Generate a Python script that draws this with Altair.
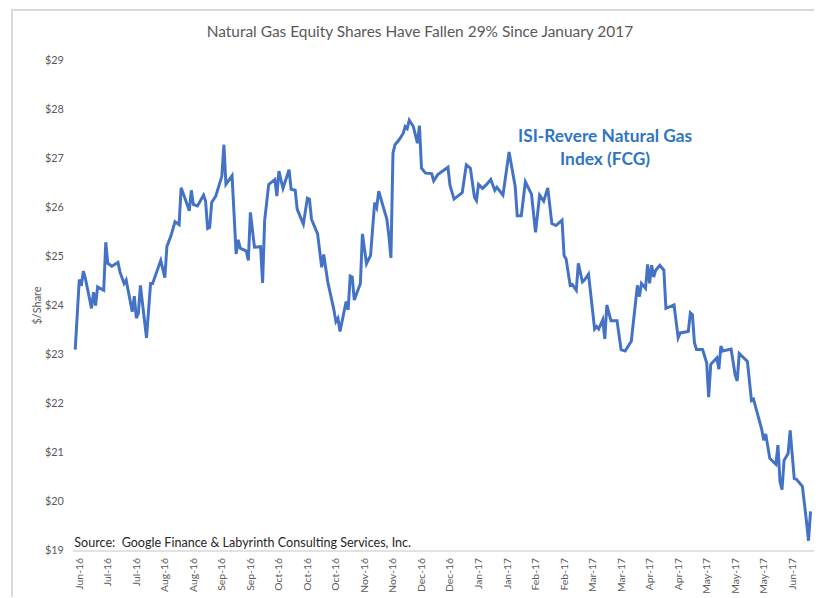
import altair as alt
import pandas as pd

# Days since 2016-06-27 and FCG closing price ($/share)
day_offsets = [-2, 0, 1, 2, 3, 6, 7, 8, 9, 12, 13, 14, 16, 19, 20, 22, 23, 26, 27, 28, 29, 30, 33, 35, 36,
               40, 42, 43, 45, 47, 49, 50, 52, 54, 55, 56, 58, 61, 62, 63, 64, 65, 67, 70, 71, 72, 75,
               77, 78, 79, 82, 83, 84, 86, 89, 90, 91, 93, 96, 97, 98, 100, 103, 104, 106, 107, 110,
               112, 113, 114, 117, 119, 120, 122, 125, 126, 127, 128, 131, 132, 133, 134, 135, 138,
               139, 141, 143, 145, 146, 147, 151, 152, 153, 154, 155, 157, 159, 160, 161, 162, 164,
               166, 167, 168, 170, 173, 174, 176, 181, 182, 184, 188, 190, 192, 194, 195, 196, 198,
               200, 202, 204, 205, 208, 211, 214, 215, 217, 219, 222, 224, 226, 228, 230, 232, 234,
               237, 238, 239, 241, 242, 244, 245, 247, 248, 250, 253, 254, 255, 257, 258, 259, 261,
               264, 266, 268, 271, 274, 275, 276, 278, 279, 280, 281, 282, 283, 285, 287, 288, 292,
               294, 295, 299, 300, 301, 302, 303, 306, 308, 309, 310, 313, 314, 315, 316, 320, 322,
               323, 324, 328, 330, 331, 335, 336, 337, 339, 342, 343, 344, 345, 346, 348, 349, 351,
               352, 355, 357, 358, 359]
prices = [23.10, 24.53, 24.40, 24.70, 24.55, 23.94, 24.27, 24.00, 24.38, 24.31, 25.29, 24.86, 24.80,
          24.88, 24.68, 24.45, 24.52, 23.87, 24.19, 23.74, 23.84, 24.41, 23.34, 24.45, 24.45,
          24.92, 24.57, 25.20, 25.42, 25.71, 25.65, 26.40, 26.17, 25.93, 26.35, 26.06, 26.03, 26.25,
          26.13, 25.57, 25.59, 26.10, 26.23, 26.64, 27.28, 26.47, 26.65,
          25.05, 25.34, 25.17, 25.11, 24.92, 25.90, 25.19, 25.20, 24.46, 25.73, 26.47, 26.57, 26.23,
          26.74, 26.39, 26.77, 26.37, 26.35, 25.96, 25.66,
          26.19, 26.17, 25.76, 25.46, 24.78, 25.04, 24.48, 23.91, 23.67, 23.74, 23.47, 24.08, 23.91,
          24.60, 24.58, 24.11, 24.45,
          25.46, 24.85, 25.02, 26.10, 26.00, 26.33, 25.76, 25.42, 24.97, 27.11, 27.28, 27.38, 27.51,
          27.65, 27.61, 27.78, 27.65,
          27.31, 27.67, 26.80, 26.70, 26.69, 26.54, 26.67, 26.82, 26.45, 26.17, 26.30, 26.87, 26.80,
          26.21, 26.14, 26.47, 26.39,
          26.47, 26.57, 26.35, 26.41, 26.25, 27.13, 26.43, 25.83, 25.83, 26.52, 26.27, 25.49, 26.25,
          26.13, 26.40, 25.67, 25.63,
          25.74, 25.02, 24.95, 24.41, 24.43, 24.31, 24.86, 24.48, 24.52, 24.64, 23.52, 23.57, 23.52,
          23.71, 23.32, 24.01, 23.69,
          23.69, 23.10, 23.07, 23.27, 24.41, 24.18, 24.45, 24.35, 24.84, 24.45, 24.82, 24.58, 24.72,
          24.82, 24.72, 23.94, 24.01,
          23.34, 23.44, 23.47, 23.85, 23.81, 23.24, 23.10, 23.10, 22.83, 22.13, 22.80, 22.93, 22.70,
          23.17, 23.07, 23.11, 22.58,
          22.46, 23.02, 22.86, 22.06, 22.09, 21.48, 21.25, 21.38, 20.88, 20.76, 21.15, 20.41, 20.24,
          20.84, 20.98, 21.45, 20.47,
          20.46, 20.31, 19.60, 19.20, 19.80]

tick_dates = ["2016-06-27", "2016-07-11", "2016-07-25", "2016-08-08", "2016-08-22", "2016-09-05",
              "2016-09-19", "2016-10-03", "2016-10-17", "2016-10-31", "2016-11-14", "2016-11-28",
              "2016-12-12", "2016-12-26", "2017-01-09", "2017-01-23", "2017-02-06", "2017-02-20",
              "2017-03-06", "2017-03-20", "2017-04-03", "2017-04-17", "2017-05-01", "2017-05-15",
              "2017-05-29", "2017-06-12"]
y_ticks = [19, 20, 21, 22, 23, 24, 25, 26, 27, 28, 29]

title_text = "Natural Gas Equity Shares Have Fallen 29% Since January 2017"
label_lines = ["ISI-Revere Natural Gas", "Index (FCG)"]
source_text = "Source:\u00a0\u00a0Google Finance & Labyrinth Consulting Services, Inc."

base = pd.Timestamp("2016-06-27")
df = pd.DataFrame({
    "date": [base + pd.Timedelta(days=d) for d in day_offsets],
    "price": prices,
})


def dt(ts):
    t = pd.Timestamp(ts)
    return alt.DateTime(year=t.year, month=t.month, date=t.day, hours=t.hour, minutes=t.minute)


x_domain = [dt("2016-06-23 14:24"), dt("2017-06-22 16:48")]
tick_values = [dt(t) for t in tick_dates]

FONT = "Lato"
GREY = "#595959"

line = alt.Chart(df).mark_line(color="#4472C4", strokeWidth=3).encode(
    x=alt.X("date:T",
            scale=alt.Scale(domain=x_domain, nice=False),
            axis=alt.Axis(values=tick_values, format="%b-%y", labelAngle=-90,
                          labelFontSize=10.5, labelColor=GREY, labelFont=FONT,
                          ticks=False, grid=False, domainColor="#D9D9D9", domainWidth=1.5,
                          labelPadding=7, title=None, labelOverlap=False)),
    y=alt.Y("price:Q",
            scale=alt.Scale(domain=[19, 29], nice=False, zero=False),
            axis=alt.Axis(values=y_ticks, format="$d", labelFontSize=11, labelColor=GREY,
                          labelFont=FONT, ticks=False, grid=False, domain=False, labelPadding=9,
                          title="$/Share", titleFont=FONT, titleFontSize=11, titleColor=GREY,
                          titleFontWeight="normal", titleX=-35, titleY=247, titleAngle=-90,
                          titleAlign="center", titleBaseline="middle")),
)

border = alt.Chart(df).mark_rect(fill="transparent", stroke="#D9D9D9", strokeWidth=1.5).encode(
    x=alt.value(-61), x2=alt.value(800), y=alt.value(-51), y2=alt.value(600)
)

title = alt.Chart(pd.DataFrame({"t": [title_text]})).mark_text(
    font=FONT, fontSize=15.6, color=GREY, align="center", baseline="middle"
).encode(x=alt.value(351), y=alt.value(-29), text="t")

annot = alt.Chart(pd.DataFrame({"t": [label_lines]})).mark_text(
    font=FONT, fontSize=17.5, fontWeight="bold", color="#2E75C6", align="center",
    baseline="middle", lineHeight=24
).encode(x=alt.value(538), y=alt.value(77), text="t")

source = alt.Chart(pd.DataFrame({"t": [source_text]})).mark_text(
    font=FONT, fontSize=12.7, color="#262626", align="left", baseline="middle"
).encode(x=alt.value(2), y=alt.value(487), text="t")

chart = alt.layer(border, line, title, annot, source).properties(
    width=749, height=495,
    autosize=alt.AutoSizeParams(type="none"),
    padding={"left": 65, "top": 50, "right": 0, "bottom": 44},
).configure_view(stroke=None)

chart.save("out.html", embed_options={"renderer": "svg", "actions": False})
